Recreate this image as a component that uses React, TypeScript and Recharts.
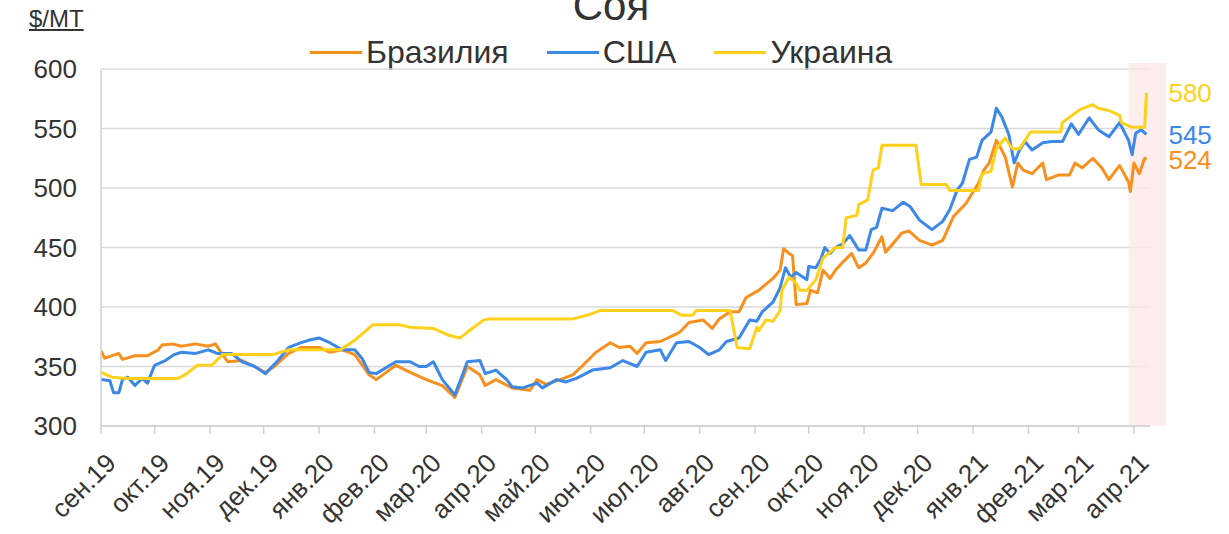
import React from "react";
import {
  LineChart,
  Line,
  XAxis,
  YAxis,
  CartesianGrid,
  ReferenceArea,
} from "recharts";

// days since 1 Sep 2019, price $/MT
const brazil: [number, number][] = [
  [0, 363], [2, 357], [10, 361], [12, 356], [19, 359], [26, 359], [32, 364], [34, 368],
  [40, 369], [45, 367], [53, 369], [60, 367], [64, 369], [68, 360], [71, 354], [79, 355],
  [86, 350], [92, 345], [97, 350], [105, 361], [112, 366], [122, 366], [128, 362], [135, 364],
  [142, 360], [150, 343], [154, 339], [165, 351], [173, 345], [182, 339], [191, 334], [198, 324],
  [205, 350], [212, 343], [215, 334], [221, 339], [230, 332], [240, 330], [244, 339], [249, 335],
  [257, 339], [264, 343], [269, 350], [277, 362], [285, 370], [290, 366], [296, 367], [300, 361],
  [305, 370], [313, 371], [320, 376], [324, 379], [329, 387], [337, 389], [342, 382], [346, 390],
  [352, 396], [357, 396], [361, 408], [368, 414], [376, 424], [380, 431], [382, 449], [385, 445],
  [387, 443], [389, 402], [395, 403], [397, 414], [401, 412], [404, 431], [408, 424], [411, 431],
  [416, 439], [420, 445], [424, 433], [428, 437], [432, 445], [437, 459], [439, 446], [443, 453],
  [448, 462], [452, 464], [458, 456], [465, 452], [471, 456], [477, 476], [484, 487], [491, 504],
  [494, 515], [497, 521], [501, 540], [503, 535], [506, 526], [510, 501], [513, 521], [516, 515],
  [521, 512], [527, 521], [529, 507], [536, 511], [542, 511], [545, 521], [549, 517], [555, 525],
  [560, 517], [564, 507], [570, 519], [575, 505], [576, 497], [578, 521], [581, 512], [584, 525],
  [585, 524],
];

const usa: [number, number][] = [
  [0, 339], [5, 338], [7, 328], [10, 328], [12, 339], [15, 341], [19, 334], [23, 340],
  [26, 336], [30, 351], [36, 355], [41, 360], [45, 362], [53, 361], [60, 364], [65, 361],
  [73, 361], [79, 354], [86, 350], [92, 344], [99, 355], [105, 366], [112, 370], [116, 372],
  [122, 374], [128, 370], [135, 364], [142, 364], [146, 357], [150, 345], [154, 344], [165, 354],
  [173, 354], [178, 350], [182, 350], [186, 354], [191, 339], [198, 326], [205, 354], [212, 355],
  [215, 344], [221, 347], [227, 339], [230, 333], [236, 332], [244, 336], [247, 332], [255, 339],
  [260, 337], [266, 340], [275, 347], [285, 349], [292, 355], [300, 350], [305, 362], [313, 364],
  [316, 355], [322, 370], [329, 371], [335, 366], [340, 360], [346, 364], [350, 371], [357, 374],
  [363, 389], [367, 388], [370, 396], [376, 404], [380, 416], [383, 433], [386, 425], [389, 429],
  [395, 423], [396, 434], [400, 433], [403, 441], [405, 450], [408, 445], [411, 450], [415, 453],
  [419, 460], [424, 448], [428, 448], [431, 465], [434, 467], [437, 483], [443, 481], [449, 488],
  [453, 484], [458, 473], [465, 465], [471, 472], [475, 482], [479, 498], [482, 504], [486, 524],
  [490, 526], [493, 540], [498, 547], [500, 560], [501, 567], [504, 560], [508, 545], [511, 521],
  [514, 532], [517, 539], [521, 532], [527, 538], [532, 539], [538, 539], [543, 554], [547, 545],
  [553, 559], [558, 549], [564, 543], [570, 555], [575, 540], [577, 528], [579, 546], [582, 549],
  [585, 545],
];

const ukraine: [number, number][] = [
  [0, 345], [6, 341], [15, 340], [43, 340], [47, 343], [54, 351], [62, 351], [68, 360],
  [96, 360], [105, 364], [134, 364], [142, 372], [152, 385], [167, 385], [173, 383], [186, 382],
  [195, 376], [201, 374], [206, 380], [214, 389], [217, 390], [264, 390], [272, 393], [279, 397],
  [320, 397], [325, 393], [331, 393], [333, 397], [352, 397], [356, 366], [363, 365], [367, 383],
  [368, 380], [372, 389], [376, 388], [380, 397], [381, 414], [385, 425], [389, 420], [391, 414],
  [395, 414], [400, 423], [404, 441], [411, 450], [415, 450], [417, 475], [423, 477], [424, 486],
  [429, 490], [432, 515], [435, 517], [437, 536], [456, 536], [459, 503], [473, 503], [475, 498],
  [491, 498], [493, 512], [498, 514], [501, 533], [506, 542], [510, 533], [514, 533], [520, 547],
  [537, 547], [538, 555], [546, 564], [548, 566], [555, 570], [558, 567], [564, 565], [570, 561],
  [571, 555], [577, 551], [584, 551], [585, 580],
];

const monthLabels = [
  "сен.19", "окт.19", "ноя.19", "дек.19", "янв.20", "фев.20", "мар.20", "апр.20",
  "май.20", "июн.20", "июл.20", "авг.20", "сен.20", "окт.20", "ноя.20", "дек.20",
  "янв.21", "фев.21", "мар.21", "апр.21",
];

const yTicks = [300, 350, 400, 450, 500, 550, 600];

const START = Date.UTC(2019, 8, 1);
const DAY = 86400000;
const monthTicks = monthLabels.map((_, i) => (Date.UTC(2019, 8 + i, 1) - START) / DAY);

const FONT = "'Liberation Sans', Arial, Helvetica, sans-serif";
const TEXT = "#333";

const series = [
  { name: "Бразилия", color: "#F7901E", data: brazil },
  { name: "США", color: "#3B88E8", data: usa },
  { name: "Украина", color: "#FFD11A", data: ukraine },
];

const toPoints = (arr: [number, number][]) => arr.map(([d, v]) => ({ d, v }));

const XTick = (props: any) => {
  const { x, y, payload } = props;
  const idx = monthTicks.indexOf(payload.value);
  const ax = x + 10;
  const ay = y + 22;
  return (
    <text
      x={ax}
      y={ay}
      transform={`rotate(-45 ${ax} ${ay})`}
      textAnchor="end"
      dy="0.35em"
      fontSize={26}
      fill={TEXT}
      fontFamily={FONT}
    >
      {monthLabels[idx]}
    </text>
  );
};

const endLabel = (color: string, last: number) => (props: any) => {
  const { x, y, index, value } = props;
  if (index !== last) return null;
  return (
    <text
      x={x + 22}
      y={y}
      dy="0.35em"
      fontSize={26}
      fill={color}
      fontFamily={FONT}
    >
      {value}
    </text>
  );
};

const App = () => {
  return (
    <div
      style={{
        position: "absolute",
        left: 0,
        top: 0,
        width: 1229,
        height: 534,
        background: "#fff",
        overflow: "hidden",
        fontFamily: FONT,
      }}
    >
      <div
        style={{
          position: "absolute",
          left: 0,
          width: 1222,
          top: -15,
          textAlign: "center",
          fontSize: 42,
          lineHeight: "42px",
          color: TEXT,
        }}
      >
        Соя
      </div>
      <div
        style={{
          position: "absolute",
          left: 29,
          top: 7,
          fontSize: 24,
          lineHeight: "24px",
          color: TEXT,
          textDecoration: "underline",
        }}
      >
        $/MT
      </div>
      <div
        style={{
          position: "absolute",
          left: 310,
          top: 36,
          display: "flex",
          alignItems: "center",
          fontSize: 32,
          lineHeight: "32px",
          color: TEXT,
        }}
      >
        {series.map((s) => (
          <div
            key={s.name}
            style={{ display: "flex", alignItems: "center", marginRight: 38 }}
          >
            <div
              style={{
                width: 52,
                height: 3,
                background: s.color,
                marginRight: 4,
              }}
            />
            <span>{s.name}</span>
          </div>
        ))}
      </div>
      <LineChart
        width={1229}
        height={534}
        margin={{ top: 69, right: 79, bottom: 0, left: 0 }}
      >
        <CartesianGrid
          vertical={false}
          stroke="#d9d9d9"
          strokeWidth={1.5}
        />
        <ReferenceArea
          x1={575}
          x2={596}
          y1={300}
          y2={605}
          ifOverflow="visible"
          fill="#fde9e9"
          fillOpacity={0.8}
          stroke="none"
        />
        <XAxis
          type="number"
          dataKey="d"
          domain={[0, 587]}
          ticks={monthTicks}
          interval={0}
          height={108}
          tickSize={8}
          tick={<XTick />}
          stroke="#d0d0d0"
          strokeWidth={1.5}
          allowDataOverflow
        />
        <YAxis
          type="number"
          domain={[300, 600]}
          ticks={yTicks}
          width={101}
          tickLine={false}
          tickSize={8}
          tickMargin={16}
          tick={{ fontSize: 26, fill: TEXT, fontFamily: FONT }}
          stroke="#d0d0d0"
          strokeWidth={1.5}
        />
        {series.map((s) => (
          <Line
            key={s.name}
            data={toPoints(s.data)}
            dataKey="v"
            name={s.name}
            type="linear"
            stroke={s.color}
            strokeWidth={3}
            dot={false}
            activeDot={false}
            isAnimationActive={false}
            strokeLinejoin="round"
            label={endLabel(s.color, s.data.length - 1)}
          />
        ))}
      </LineChart>
    </div>
  );
};

export default App;
